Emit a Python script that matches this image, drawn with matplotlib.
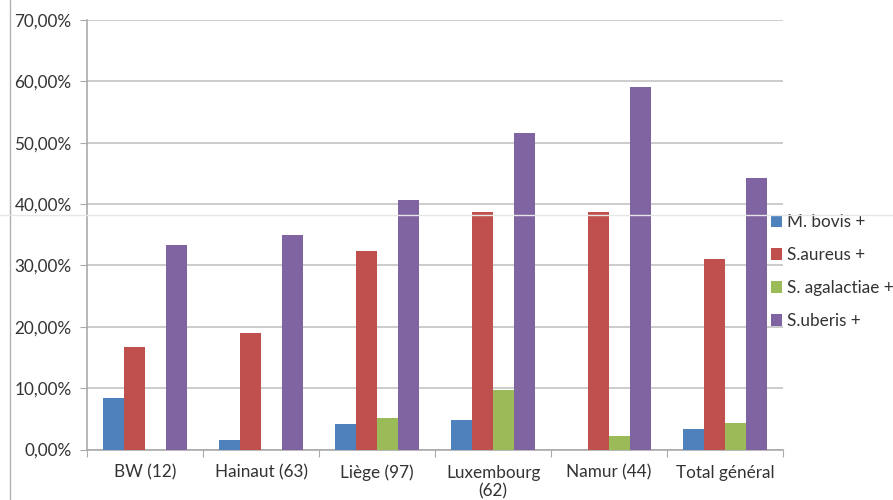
import matplotlib.pyplot as plt
import numpy as np
from matplotlib.lines import Line2D

# data (fractions in %)
categories = ["BW (12)", "Hainaut (63)", "Liège (97)", "Luxembourg\n(62)", "Namur (44)", "Total général"]
m_bovis = [8.33, 1.59, 4.12, 4.84, 0.0, 3.3]
s_aureus = [16.67, 19.05, 32.3, 38.71, 38.64, 31.1]
s_agalactiae = [0.0, 0.0, 5.15, 9.68, 2.27, 4.4]
s_uberis = [33.33, 34.92, 40.7, 51.61, 59.09, 44.3]
series_names = ["M. bovis +", "S.aureus +", "S. agalactiae +", "S.uberis +"]
colors = ["#4F81BD", "#C0504D", "#9BBB59", "#8064A2"]

plt.rcParams["font.family"] = ["Lato", "DejaVu Sans"]
fs = 12.3

fig = plt.figure(figsize=(8.93, 5.0), dpi=100)
ax = fig.add_axes([0.0974, 0.101, 0.7796, 0.859])

x = np.arange(len(categories))
w = 0.18
all_series = [m_bovis, s_aureus, s_agalactiae, s_uberis]
for i, vals in enumerate(all_series):
    ax.bar(x + (i - 1.5) * w, vals, width=w, color=colors[i],
           label=series_names[i], zorder=3)

ax.set_xlim(-0.5, len(categories) - 0.5)
ax.set_ylim(0, 70)
ax.set_yticks(np.arange(0, 71, 10))
ax.set_yticklabels(["%d,00%%" % v for v in range(0, 71, 10)], fontsize=fs, color="#333333")
ax.yaxis.grid(True, color="#C8C8C8", linewidth=1.3, zorder=0)

# category labels in the middle, ticks at the boundaries
ax.set_xticks(np.arange(-0.5, len(categories), 1.0))
ax.set_xticklabels([""] * (len(categories) + 1))
ax.set_xticks(x, minor=True)
ax.set_xticklabels(categories, minor=True, fontsize=fs, color="#333333")
ax.tick_params(axis="x", which="minor", length=0, pad=11)
ax.tick_params(axis="x", which="major", length=5, color="#AAAAAA", direction="out")
ax.tick_params(axis="y", length=5, color="#AAAAAA", pad=6)

for s in ["top", "right"]:
    ax.spines[s].set_visible(False)
ax.spines["left"].set_color("#AAAAAA")
ax.spines["bottom"].set_color("#AAAAAA")
ax.spines["left"].set_linewidth(1.2)
ax.spines["bottom"].set_linewidth(1.2)

leg = ax.legend(loc="upper left", bbox_to_anchor=(0.972, 0.565), frameon=False,
                fontsize=fs, handlelength=0.7, handleheight=0.7,
                handletextpad=0.25, labelspacing=1.0, borderaxespad=0)
for t in leg.get_texts():
    t.set_color("#333333")

# scan artefacts: faint frame line on the left and faint horizontal line
fig.add_artist(Line2D([0.011, 0.011], [0, 1], color="#B0B0B0", linewidth=1.0))
fig.add_artist(Line2D([0, 1], [0.571, 0.571], color="#E6E6E6", linewidth=1.0))

fig.savefig("out.png", dpi=100)
